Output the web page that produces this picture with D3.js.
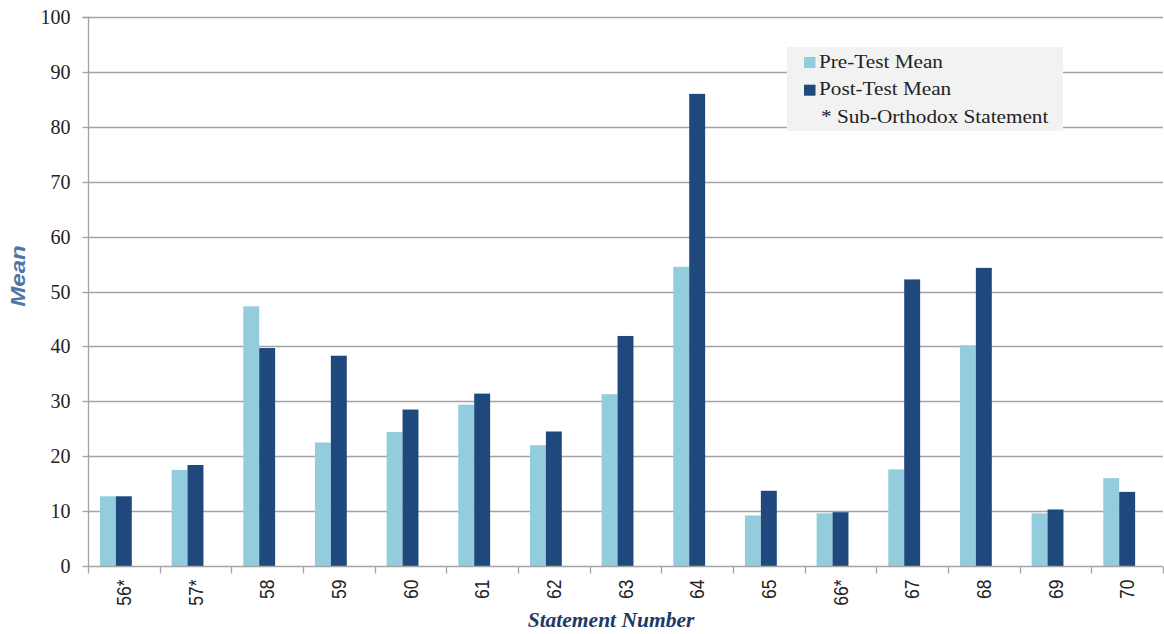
<!DOCTYPE html>
<html>
<head>
<meta charset="utf-8">
<script src="https://cdn.jsdelivr.net/npm/d3@7"></script>
<style>
  html, body { margin: 0; padding: 0; background: #fff; }
  svg { display: block; }
</style>
</head>
<body>
<svg id="chart" width="1164" height="634"></svg>
<script>
const categories = ["56*", "57*", "58", "59", "60", "61", "62", "63", "64", "65", "66*", "67", "68", "69", "70"];
const preTest  = [12.7, 17.5, 47.3, 22.5, 24.4, 29.4, 22.0, 31.3, 54.5, 9.2, 9.6, 17.6, 40.2, 9.6, 16.0];
const postTest = [12.7, 18.4, 39.7, 38.3, 28.5, 31.4, 24.5, 41.9, 86.0, 13.7, 9.8, 52.2, 54.3, 10.3, 13.5];
const seriesNames = ["Pre-Test Mean", "Post-Test Mean", "* Sub-Orthodox Statement"];
const yTicks = [0, 10, 20, 30, 40, 50, 60, 70, 80, 90, 100];

const svg = d3.select("#chart");
const margin = { left: 88, right: 1, top: 17, bottom: 68 };
const W = 1164, H = 634;
const x0 = margin.left, x1 = W - margin.right;
const yTop = margin.top, yBot = H - margin.bottom;

const x = d3.scaleBand().domain(categories).range([x0, x1]).paddingInner(0).paddingOuter(0);
// three slots per category (third series is empty, as in the original), gap = 150% of bar width
const slots = d3.scaleBand().domain([0, 1, 2]).range([0, x.bandwidth()]).paddingInner(0).paddingOuter(0.75);
const y = d3.scaleLinear().domain([0, 100]).range([yBot, yTop]);

const gridColor = "#a3a3a3";

// gridlines
svg.append("g").selectAll("line").data(yTicks.filter(d => d > 0)).join("line")
  .attr("x1", x0).attr("x2", x1)
  .attr("y1", d => Math.round(y(d)) + 0.5).attr("y2", d => Math.round(y(d)) + 0.5)
  .attr("stroke", gridColor).attr("stroke-width", 1.3);

// bars
const series = [
  { values: preTest, color: "#93cddd" },
  { values: postTest, color: "#1f497d" }
];
series.forEach((s, si) => {
  svg.append("g").selectAll("rect").data(categories).join("rect")
    .attr("x", d => x(d) + slots(si))
    .attr("width", slots.bandwidth())
    .attr("y", (d, i) => y(s.values[i]))
    .attr("height", (d, i) => y(0) - y(s.values[i]))
    .attr("fill", s.color);
});

// y axis
const yAxis = d3.axisLeft(y).tickValues(yTicks).tickSize(6).tickPadding(12).tickFormat(d3.format("d"));
const gy = svg.append("g").attr("transform", `translate(${x0 + 0.5},0)`).call(yAxis);
gy.select(".domain").attr("stroke", gridColor).attr("stroke-width", 1.3).attr("d", `M-6,${Math.round(y(100))+0.5}H0V${Math.round(y(0))+0.5}`);
gy.selectAll(".tick line").attr("stroke", gridColor).attr("stroke-width", 1.3);
gy.selectAll(".tick").attr("transform", d => `translate(0,${Math.round(y(d)) + 0.5})`);
gy.selectAll(".tick text").attr("font-family", "'Liberation Serif', 'Times New Roman', serif")
  .attr("font-size", 20).attr("fill", "#222").attr("dy", "0.34em");

// x axis baseline and boundary ticks
const gx = svg.append("g").attr("transform", `translate(0,${Math.round(y(0)) + 0.5})`);
gx.append("line").attr("x1", x0).attr("x2", x1).attr("stroke", gridColor).attr("stroke-width", 1.3);
const boundaries = categories.map(c => x(c)).concat([x1 - 0.5]);
gx.selectAll("line.b").data(boundaries).join("line").attr("class", "b")
  .attr("x1", d => Math.round(d) + 0.5).attr("x2", d => Math.round(d) + 0.5)
  .attr("y1", 0).attr("y2", 7).attr("stroke", gridColor).attr("stroke-width", 1.3);
gx.selectAll("text").data(categories).join("text")
  .attr("transform", d => `translate(${x(d) + x.bandwidth() / 2 + 7},${13}) rotate(-90) scale(1,1.15)`)
  .attr("text-anchor", "end")
  .attr("font-family", "'Liberation Sans', Arial, sans-serif")
  .attr("font-size", 17.5).attr("fill", "#222")
  .text(d => d);

// axis titles
svg.append("text")
  .attr("transform", `translate(25,276) rotate(-90) scale(1.2,1)`)
  .attr("text-anchor", "middle")
  .attr("font-family", "'Liberation Sans', Arial, sans-serif")
  .attr("font-weight", "bold").attr("font-style", "italic")
  .attr("font-size", 20).attr("fill", "#4f76a6")
  .text("Mean");

svg.append("text")
  .attr("x", 611).attr("y", 627)
  .attr("text-anchor", "middle")
  .attr("font-family", "'Liberation Serif', 'Times New Roman', serif")
  .attr("font-weight", "bold").attr("font-style", "italic")
  .attr("font-size", 21.5).attr("fill", "#1f3864")
  .text("Statement Number");

// legend
const lg = svg.append("g").attr("transform", "translate(787,47)");
lg.append("rect").attr("width", 276).attr("height", 84).attr("fill", "#f2f2f2");
const legendColors = ["#93cddd", "#1f497d", null];
seriesNames.forEach((name, i) => {
  const base = 20.5 + i * 27.7;
  if (legendColors[i]) {
    lg.append("rect").attr("x", 17).attr("y", base - 10.5).attr("width", 11.5).attr("height", 11)
      .attr("fill", legendColors[i]);
  }
  lg.append("text")
    .attr("transform", `translate(${i < 2 ? 32 : 34},${base}) scale(1.1,1)`)
    .attr("font-family", "'Liberation Serif', 'Times New Roman', serif")
    .attr("font-size", 19.3).attr("fill", "#222")
    .text(name);
});
</script>
</body>
</html>
